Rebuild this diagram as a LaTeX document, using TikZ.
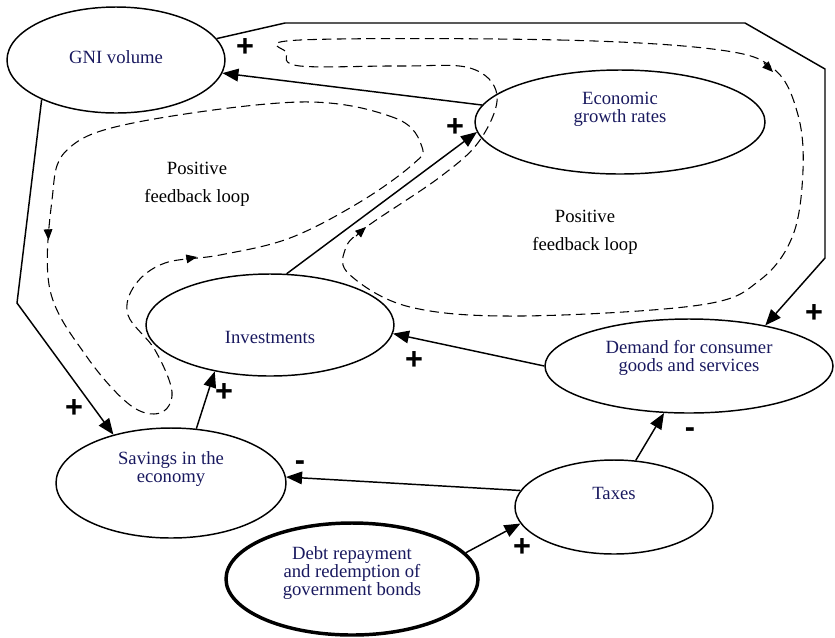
\documentclass[tikz,border=0pt]{standalone}
\usepackage{fontspec}
\setmainfont{Liberation Serif}
\newfontfamily\signfont{Liberation Sans}
\usetikzlibrary{shapes.geometric,arrows.meta}

\definecolor{textnavy}{RGB}{25,25,95}

\tikzset{
  stock/.style={ellipse, draw, line width=1.1pt, inner sep=0pt},
  title/.style={text=textnavy, align=center, font=\fontsize{14}{13.5}\selectfont},
  link/.style={-{Triangle[length=12pt,width=9.5pt]}, line width=1.1pt},
  fbloop/.style={dash pattern=on 7pt off 4pt, line width=0.8pt},
  looptip/.style={-{Triangle[length=8pt,width=6.5pt]}, line width=0.8pt},
  sign/.style={font=\signfont\bfseries\fontsize{23}{23}\selectfont, inner sep=0pt},
  note/.style={align=center, font=\fontsize{14}{21}\selectfont}
}

\begin{document}
\begin{tikzpicture}[x=0.75pt, y=-0.75pt]
    \useasboundingbox (0,0) rectangle (835,637);

    % Variables of the model (pixel-like grid, y grows downwards)
    \node[stock, minimum width=163.5pt, minimum height=79.5pt,
          label={[title, yshift=2pt]center:GNI volume}] (gni) at (116,60) {};
    \node[stock, minimum width=217.5pt, minimum height=78pt,
          label={[title, yshift=9.75pt]center:{Economic\\growth rates}}] (egr) at (620,122) {};
    \node[stock, minimum width=186pt, minimum height=76.5pt,
          label={[title, yshift=-9pt]center:Investments}] (inv) at (270,325) {};
    \node[stock, minimum width=172.5pt, minimum height=82.5pt,
          label={[title, yshift=10.5pt]center:{Savings in the\\economy}}] (sav) at (171,483) {};
    \node[stock, minimum width=216pt, minimum height=70.5pt,
          label={[title, yshift=6pt]center:{Demand for consumer\\goods and services}}] (dem) at (689,366) {};
    \node[stock, minimum width=148.5pt, minimum height=70.5pt,
          label={[title, yshift=10.5pt]center:Taxes}] (tax) at (614,507) {};
    \node[stock, line width=2.6pt, minimum width=189pt, minimum height=84pt,
          label={[title, yshift=4.5pt]center:{Debt repayment\\and redemption of\\government bonds}}] (debt) at (352,579) {};

    % Feedback loops (dashed) with their direction marks
    \draw[fbloop] plot[smooth cycle, tension=0.6] coordinates {
      (422,147) (395,118) (300,102) (133,123) (67,150) (52,200) (50,290)
      (87,357) (130,405) (160,413) (172,392) (155,350) (128,315) (135,285)
      (165,263) (220,255) (290,238) (360,202) (412,165)};
    \draw[fbloop] plot[smooth cycle, tension=0.6] coordinates {
      (300,40) (560,40) (720,50) (775,70) (798,115) (803,170) (793,235)
      (760,280) (700,305) (520,316) (410,307) (350,275) (345,250) (365,228)
      (440,177) (480,140) (497,95) (470,68) (400,66) (300,66) (287,53)};
    \draw[looptip] (48,229) -- (48.5,240);
    \draw[looptip] (186,259) -- (197,257);
    \draw[looptip] (764,63) -- (773,72);
    \draw[looptip] (356,236) -- (366,227);

    \node[note] (loopa) at (197,184) {Positive\\feedback loop};
    \node[note] (loopb) at (585,232) {Positive\\feedback loop};

    % Causal links
    \draw[link] (egr) -- (gni);
    \draw[link] (gni.208) -- (17,303) -- (sav.140);
    \draw[link] (gni.12) -- (285,23) -- (745,23) -- (825,69) -- (825,258) -- (dem.28);
    \draw[link] (inv.72) -- (egr.184);
    \draw[link] (dem.180) -- (inv.356);
    \draw[link] (sav.65) -- (inv.220);
    \draw[link] (tax.170) -- (sav.3);
    \draw[link] (tax.65) -- (dem.242);
    \draw[link] (debt.13) -- (tax.190);

    % Polarity of the links
    \node[sign] (s1) at (245,48) {+};
    \node[sign] (s2) at (74,408) {+};
    \node[sign] (s3) at (814,313) {+};
    \node[sign] (s4) at (455,127) {+};
    \node[sign] (s5) at (414,360) {+};
    \node[sign] (s6) at (224,392) {+};
    \node[sign] (s7) at (522,547) {+};
    \node[sign] (s8) at (300,466) {-};
    \node[sign] (s9) at (690,433) {-};
\end{tikzpicture}
\end{document}
